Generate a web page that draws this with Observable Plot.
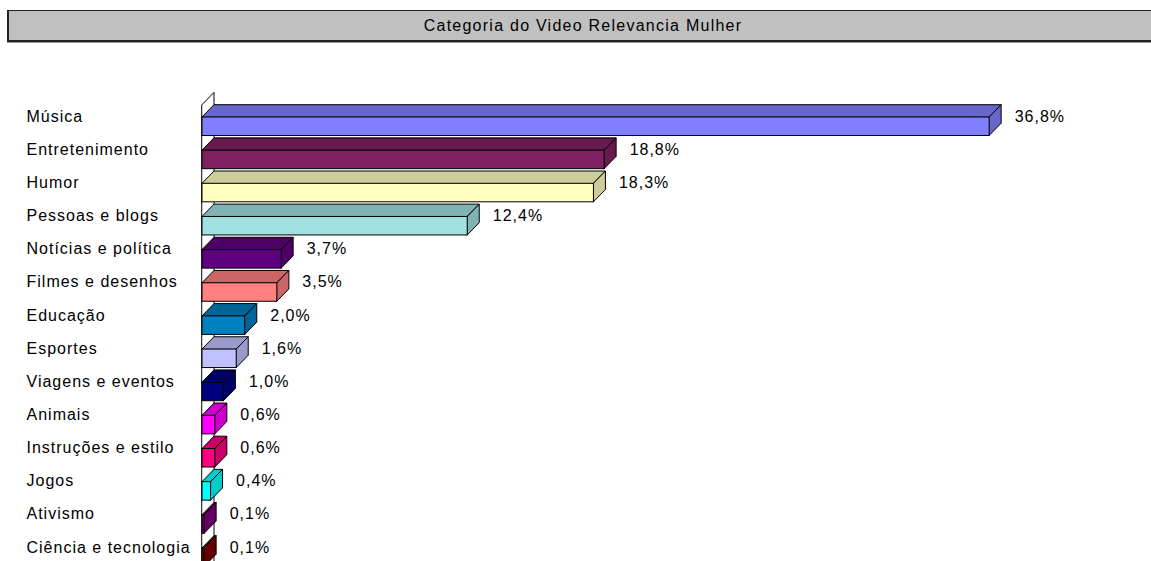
<!DOCTYPE html>
<html>
<head>
<meta charset="utf-8">
<script src="https://cdn.jsdelivr.net/npm/d3@7"></script>
<script src="https://cdn.jsdelivr.net/npm/@observablehq/plot@0.6"></script>
<style>
  html, body { margin: 0; padding: 0; background: white; }
  body { width: 1151px; height: 561px; overflow: hidden; font-family: "Liberation Sans", Arial, sans-serif; }
  #head { position: relative; height: 50px; }
  #title {
    position: absolute; left: 7px; top: 10px; width: 1148px; height: 29px;
    background: #c0c0c0; border-top: 1px solid #222; border-left: 2px solid #222;
    border-bottom: 2px solid #222; box-shadow: 0 1px 0 #9a9a9a;
    font-size: 16px; letter-spacing: 1.25px; line-height: 29px; text-align: center; color: #000;
    box-sizing: content-box;
  }
</style>
</head>
<body>
<div id="head"><div id="title">Categoria do Video Relevancia Mulher</div></div>
<div id="chart"></div>
<script>
const categories = ["Música", "Entretenimento", "Humor", "Pessoas e blogs", "Notícias e política",
  "Filmes e desenhos", "Educação", "Esportes", "Viagens e eventos", "Animais",
  "Instruções e estilo", "Jogos", "Ativismo", "Ciência e tecnologia"];
const values = [36.8, 18.8, 18.3, 12.4, 3.7, 3.5, 2.0, 1.6, 1.0, 0.6, 0.6, 0.4, 0.1, 0.1];
const palette = ["#8080FF", "#802060", "#FFFFC0", "#A0E0E0", "#600080", "#FF8080", "#0080C0",
  "#C0C0FF", "#000080", "#FF00FF", "#FF0080", "#00FFFF", "#800080", "#800000"];

// geometry of the 3-D look (pixels)
const pxPerUnit = 21.39;     // x pixels per percent
const rowPx = 33.15;         // pixels per category row
const depthXpx = 12, depthYpx = 12.3, frontPx = 18.5;
const dX = depthXpx / pxPerUnit;
const dY = depthYpx / rowPx;
const hf = frontPx / rowPx;

const darken = c => { const r = d3.rgb(c); return d3.rgb(r.r * 0.8, r.g * 0.8, r.b * 0.8).formatHex(); };

const rows = categories.map((name, i) => ({name, i, v: values[i], c: palette[i], d: darken(palette[i])}));
const topPts = rows.flatMap(r => [
  {i: r.i, y: r.i, x1: 0, x2: r.v, c: r.d},
  {i: r.i, y: r.i - dY, x1: dX, x2: r.v + dX, c: r.d}
]);
const sidePts = rows.flatMap(r => [
  {i: r.i, x: r.v, y1: r.i + hf, y2: r.i, c: r.d},
  {i: r.i, x: r.v + dX, y1: r.i + hf - dY, y2: r.i - dY, c: r.d}
]);
const yTop = -dY, yBottom = categories.length + 1;
const wallPts = [
  {x: 0, y1: yBottom, y2: yTop},
  {x: dX, y1: yBottom - dY, y2: yTop - dY}
];
const fmt = v => v.toFixed(1).replace(".", ",") + "%";

const svgTop = 50, firstRowY = 117;
const plot = Plot.plot({
  width: 1151,
  height: 511,
  marginLeft: 26, marginRight: 0, marginTop: 0, marginBottom: 0,
  x: {domain: [0, 40], range: [202, 202 + 40 * pxPerUnit], axis: null},
  y: {domain: [-1, 14], range: [firstRowY - svgTop - rowPx, firstRowY - svgTop + 14 * rowPx], axis: null},
  color: {type: "identity"},
  style: {fontFamily: "'Liberation Sans', Arial, sans-serif", fontSize: "16px", letterSpacing: "1px", background: "white", overflow: "visible"},
  marks: [
    Plot.areaY(wallPts, {x: "x", y1: "y1", y2: "y2", fill: "white", stroke: "black", strokeWidth: 1}),
    Plot.areaX(topPts, {x1: "x1", x2: "x2", y: "y", z: "i", fill: "c", stroke: "black", strokeWidth: 1}),
    Plot.areaY(sidePts, {x: "x", y1: "y1", y2: "y2", z: "i", fill: "c", stroke: "black", strokeWidth: 1}),
    Plot.rect(rows, {x1: () => 0, x2: "v", y1: "i", y2: d => d.i + hf, fill: "c", stroke: "black", strokeWidth: 1}),
    Plot.text(rows, {y: "i", text: "name", frameAnchor: "left", textAnchor: "start", dy: -1, fill: "black", fontSize: 16}),
    Plot.text(rows, {x: "v", y: "i", text: d => fmt(d.v), textAnchor: "start", dx: depthXpx + 13, dy: -1, fill: "black", fontSize: 16})
  ]
});
document.getElementById("chart").appendChild(plot);
</script>
</body>
</html>
